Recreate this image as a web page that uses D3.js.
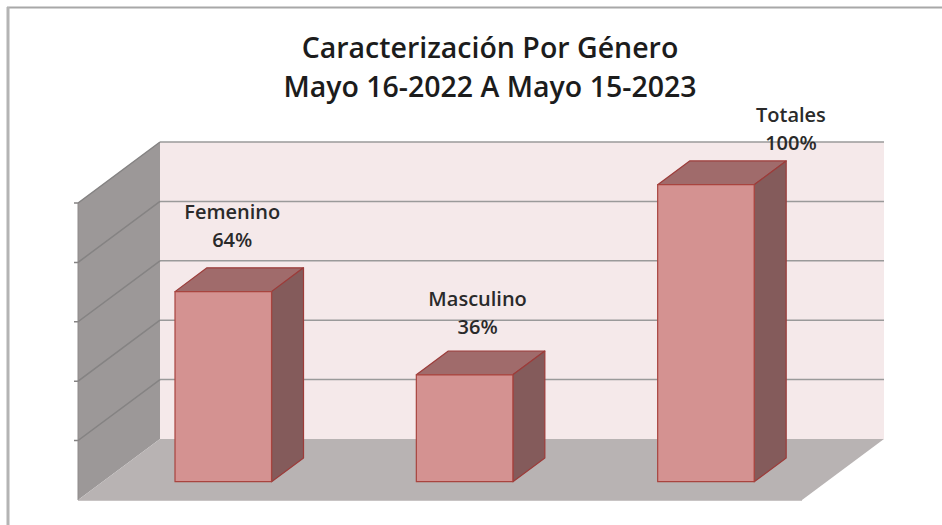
<!DOCTYPE html>
<html>
<head>
<meta charset="utf-8">
<script src="https://cdn.jsdelivr.net/npm/d3@7"></script>
<style>
  body { margin: 0; background: #fff; }
  svg { display: block; }
</style>
</head>
<body>
<div id="idChart"></div>
<script>
// chart values
var categories = ["Femenino", "Masculino", "Totales"];
var values = [0.64, 0.36, 1.00];
var valueLabels = ["64%", "36%", "100%"];
var gridTicks = [0, 0.2, 0.4, 0.6, 0.8, 1.0];
var titleLines = ["Caracterización Por Género", "Mayo 16-2022 A Mayo 15-2023"];

// hand placed label nudges (dx, dy from bar front top)
var labelNudge = [[9, -52], [13, -48], [85, -42]];

var iWidth = 942, iHeight = 525;
var depthX = 82, depthY = 61;     // floor depth in screen px
var barZ0 = 0.3, barZ1 = 0.69;    // bar front / back depth
var barFrac = 0.4;                // bar width vs band
var sFont = "'Open Sans', Lato, sans-serif";

var svg = d3.select("#idChart").append("svg")
    .attr("width", iWidth).attr("height", iHeight);

var x = d3.scaleBand().domain(categories).range([78, 802]).padding(0);
var y = d3.scaleLinear().domain([0, 1]).range([500, 203]);

function pt(px, v, z) {
    return [px + z * depthX, y(v) - z * depthY];
}
function poly(a) {
    return a.map(function(p) { return p[0] + "," + p[1]; }).join(" ");
}

var x0 = x.range()[0], x1 = x.range()[1];

// frame
svg.append("line").attr("x1", 7).attr("y1", 7.5).attr("x2", iWidth).attr("y2", 7.5)
    .attr("stroke", "#a8a8a8").attr("stroke-width", 2);
svg.append("line").attr("x1", 8).attr("y1", 7).attr("x2", 8).attr("y2", iHeight)
    .attr("stroke", "#b4b4b4").attr("stroke-width", 3);

// back wall
svg.append("polygon")
    .attr("points", poly([pt(x0, 0, 1), pt(x1, 0, 1), pt(x1, 1, 1), pt(x0, 1, 1)]))
    .attr("fill", "#f5e9ea");

// side wall
svg.append("polygon")
    .attr("points", poly([pt(x0, 0, 0), pt(x0, 0, 1), pt(x0, 1, 1), pt(x0, 1, 0)]))
    .attr("fill", "#9c9898");

// floor
svg.append("polygon")
    .attr("points", poly([pt(x0, 0, 0), pt(x1, 0, 0), pt(x1, 0, 1), pt(x0, 0, 1)]))
    .attr("fill", "#b8b3b3");

// gridlines: side wall part darker than back wall part
var grid = svg.append("g").attr("class", "grid");
gridTicks.filter(function(t) { return t > 0; }).forEach(function(t) {
    var a = pt(x0, t, 0), b = pt(x0, t, 1), c = pt(x1, t, 1);
    grid.append("polyline")
        .attr("points", poly([[a[0] - 4, a[1]], a, b]))
        .attr("fill", "none")
        .attr("stroke", "#858383")
        .attr("stroke-width", 1.5);
    grid.append("line")
        .attr("x1", b[0]).attr("y1", b[1]).attr("x2", c[0]).attr("y2", c[1])
        .attr("stroke", "#9a9a9a")
        .attr("stroke-width", 1.5);
});
// side wall edges
svg.append("line")
    .attr("x1", x0).attr("y1", y(0)).attr("x2", x0).attr("y2", y(1))
    .attr("stroke", "#8e8a8a").attr("stroke-width", 1);
// floor front edge
svg.append("line")
    .attr("x1", x0).attr("y1", y(0) + 0.5).attr("x2", x1).attr("y2", y(0) + 0.5)
    .attr("stroke", "#c8c4c4").attr("stroke-width", 1);

// bars
var bars = svg.append("g").attr("class", "bars");
categories.forEach(function(c, i) {
    var bw = x.bandwidth() * barFrac;
    var l = x(c) + (x.bandwidth() - bw) / 2;
    var r = l + bw;
    var v = values[i];
    var g = bars.append("g");
    // top
    g.append("polygon")
        .attr("points", poly([pt(l, v, barZ0), pt(r, v, barZ0), pt(r, v, barZ1), pt(l, v, barZ1)]))
        .attr("fill", "#a06b6b").attr("stroke", "#9c3c3a").attr("stroke-width", 1.2)
        .attr("stroke-linejoin", "round");
    // side
    g.append("polygon")
        .attr("points", poly([pt(r, 0, barZ0), pt(r, 0, barZ1), pt(r, v, barZ1), pt(r, v, barZ0)]))
        .attr("fill", "#845b5b").attr("stroke", "#9c3c3a").attr("stroke-width", 1.2)
        .attr("stroke-linejoin", "round");
    // front
    g.append("polygon")
        .attr("points", poly([pt(l, 0, barZ0), pt(r, 0, barZ0), pt(r, v, barZ0), pt(l, v, barZ0)]))
        .attr("fill", "#d49291").attr("stroke", "#a8443f").attr("stroke-width", 1.2)
        .attr("stroke-linejoin", "round");

    // label
    var top = pt(x(c) + x.bandwidth() / 2, v, barZ0);
    var lx = top[0] + labelNudge[i][0];
    var ly = top[1] + labelNudge[i][1];
    var t = svg.append("text")
        .attr("text-anchor", "middle")
        .attr("font-family", sFont)
        .attr("font-weight", 600)
        .attr("font-size", 20)
        .attr("fill", "#2a2a2a");
    t.append("tspan").attr("x", lx).attr("y", ly - 28).attr("dy", "0.35em").text(c);
    t.append("tspan").attr("x", lx).attr("y", ly).attr("dy", "0.35em").text(valueLabels[i]);
});

// title
var title = svg.append("text")
    .attr("text-anchor", "middle")
    .attr("font-family", sFont)
    .attr("font-weight", 600)
    .attr("font-size", 28.5)
    .attr("fill", "#1c1c1c");
titleLines.forEach(function(s, i) {
    title.append("tspan").attr("x", 490).attr("y", 58 + i * 39).text(s);
});
</script>
</body>
</html>
